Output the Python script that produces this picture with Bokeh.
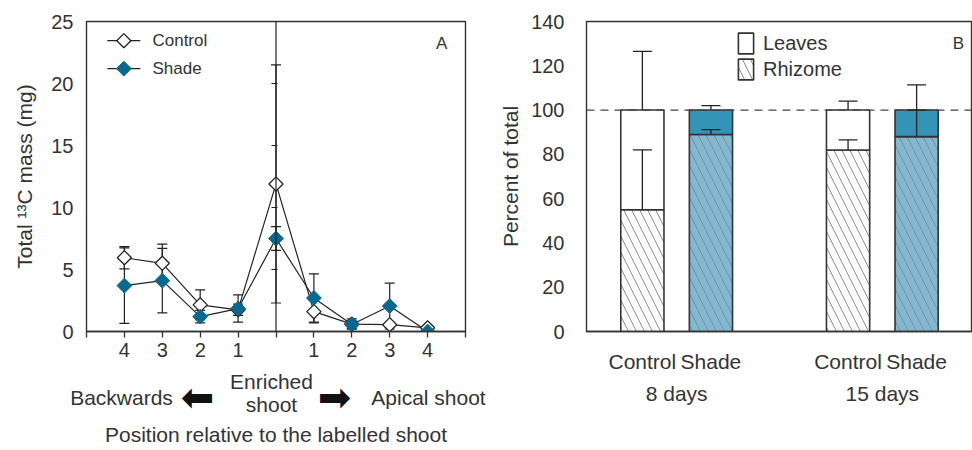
import numpy as np
from bokeh.plotting import figure
from bokeh.models import (ColumnDataSource, Whisker, TeeHead, Span, Label, LinearAxis,
                          Legend, LegendItem, FixedTicker, FactorRange, Range1d)
from bokeh.layouts import row
from bokeh.embed import file_html
from bokeh.resources import INLINE

# ---- Panel A: total 13C mass along the rhizome ----
position_labels = ["4", "3", "2", "1", "", "1", "2", "3", "4"]
control_mass = [5.95, 5.5, 2.15, 1.75, 11.9, 1.6, 0.6, 0.55, 0.3]
control_err = [0.9, 1.55, 1.2, 0.45, 9.6, 0.9, 0.42, 0.1, 0.0]
shade_mass = [3.7, 4.1, 1.2, 1.85, 7.5, 2.7, 0.56, 2.05, 0.0]
shade_err = [3.05, 2.6, 0.5, 1.1, 0.95, 1.95, 0.3, 1.85, 0.0]
enriched_ticks = [5, 10, 15, 20]

# ---- Panel B: partitioning between leaves and rhizome ----
periods = ["8 days", "8 days", "15 days", "15 days"]
treatments = ["Control", "Shade", "Control", "Shade"]
rhizome_pct = [55, 89, 82, 88]
rhizome_err = [27, 2.2, 4.5, 12]
total_pct = [100, 100, 100, 100]
total_err = [26.5, 2.0, 4.0, 11.4]

FONT = "Liberation Sans"
INK = "#333333"
LINE = "#222222"
SHADE_MARK = "#0a6890"
SHADE_LEAF = "#3394b8"
SHADE_RHIZ = "#82b9d2"
WORD = "21px"
DIGIT = "20px"


def style_text_axis(ax):
    ax.major_label_text_font = FONT
    ax.major_label_text_font_size = DIGIT
    ax.major_label_text_color = INK
    ax.axis_label_text_font = FONT
    ax.axis_label_text_font_size = WORD
    ax.axis_label_text_font_style = "normal"
    ax.axis_label_text_color = INK
    ax.minor_tick_line_color = None


def add_label(fig, x, y, text, align="center", size=WORD):
    fig.add_layout(Label(x=x, y=y, text=text, text_align=align, text_baseline="middle",
                         text_font=FONT, text_font_size=size, text_color=INK))


# ================= Panel A =================
x_pos = list(range(len(position_labels)))
x_center = position_labels.index("")
A_WIDTH, A_LEFT, A_RIGHT = 490, 86, 25
a_x0, a_x1 = -1, len(position_labels)

pa = figure(width=A_WIDTH, height=450, x_range=(a_x0, a_x1), y_range=(0, 25),
            output_backend="svg", toolbar_location=None,
            min_border_left=A_LEFT, min_border_right=A_RIGHT, min_border_top=21, min_border_bottom=119)
pa.background_fill_color = None
pa.border_fill_color = "white"
pa.outline_line_color = INK
pa.outline_line_width = 1.4
pa.grid.visible = False

style_text_axis(pa.xaxis[0])
style_text_axis(pa.yaxis[0])
pa.xaxis.ticker = FixedTicker(ticks=list(range(a_x0, a_x1 + 1)))
overrides = {i: lab for i, lab in enumerate(position_labels)}
overrides[a_x0] = ""
overrides[a_x1] = ""
pa.xaxis.major_label_overrides = overrides
pa.xaxis.major_tick_out = 6
pa.xaxis.major_tick_in = 0
pa.xaxis.major_tick_line_color = INK
pa.xaxis.major_tick_line_width = 1.3
pa.xaxis.axis_line_color = INK
pa.xaxis.axis_line_width = 1.4
pa.xaxis.major_label_standoff = 5

pa.yaxis.ticker = FixedTicker(ticks=[0, 5, 10, 15, 20, 25])
pa.yaxis.major_tick_line_color = None
pa.yaxis.axis_line_color = None
pa.yaxis.major_label_standoff = 7
pa.yaxis.axis_label = "Total \u00b9\u00b3C mass (mg)"
pa.yaxis.axis_label_standoff = 12

# vertical line through the enriched shoot, with its own ticks
pa.add_layout(Span(location=x_center, dimension="height", line_color=LINE, line_width=1.2))
pa.segment(x0=[x_center - 0.12] * len(enriched_ticks), y0=enriched_ticks,
           x1=[x_center + 0.04] * len(enriched_ticks), y1=enriched_ticks,
           line_color=LINE, line_width=1.2)

ctrl = ColumnDataSource(dict(x=x_pos, y=control_mass,
                             lo=[m - e for m, e in zip(control_mass, control_err)],
                             hi=[m + e for m, e in zip(control_mass, control_err)]))
shd = ColumnDataSource(dict(x=x_pos, y=shade_mass,
                            lo=[m - e for m, e in zip(shade_mass, shade_err)],
                            hi=[m + e for m, e in zip(shade_mass, shade_err)]))

for src in (ctrl, shd):
    pa.add_layout(Whisker(source=src, base="x", lower="lo", upper="hi",
                          line_color=LINE, line_width=1.2, level="underlay",
                          upper_head=TeeHead(size=10, line_color=LINE, line_width=1.2),
                          lower_head=TeeHead(size=10, line_color=LINE, line_width=1.2)))

ctrl_style = dict(marker="square", angle=np.pi / 4, size=10,
                  fill_color="white", line_color=LINE, line_width=1.3)
shade_style = dict(marker="square", angle=np.pi / 4, size=10.5,
                   fill_color=SHADE_MARK, line_color=SHADE_MARK, line_width=1)

pa.line("x", "y", source=ctrl, line_color=LINE, line_width=1.2)
pa.line("x", "y", source=shd, line_color=LINE, line_width=1.2)
pa.scatter("x", "y", source=ctrl, **ctrl_style)
pa.scatter("x", "y", source=shd, **shade_style)

# series key (line + rotated-square marker), top left of the panel
key_x = (-0.45, 0.42)
key_rows = [("Control", 23.45, ctrl_style), ("Shade", 21.2, shade_style)]
for name, ky, style in key_rows:
    pa.line(x=list(key_x), y=[ky, ky], line_color=LINE, line_width=1.2)
    pa.scatter(x=[sum(key_x) / 2], y=[ky], **style)
    add_label(pa, 0.74, ky, name, align="left", size="17px")

add_label(pa, 8.37, 23.2, "A", size="17px")

# ---- direction guide under panel A, built from stacked label-only axes ----
# the "guide" range is in pixel units across the plotting frame
pa.extra_x_ranges = {"guide": Range1d(A_LEFT, A_WIDTH - A_RIGHT)}


def guide_axis(texts, standoff, size=WORD, font=FONT, color=INK, label=None, label_standoff=0):
    ax = LinearAxis(x_range_name="guide", ticker=FixedTicker(ticks=list(texts)),
                    major_label_overrides=dict(texts),
                    major_label_standoff=standoff,
                    major_label_text_font=font, major_label_text_font_size=size,
                    major_label_text_color=color,
                    major_tick_line_color=None, minor_tick_line_color=None,
                    major_tick_out=0, major_tick_in=0, axis_line_color=None)
    if label:
        ax.axis_label = label
        ax.axis_label_standoff = label_standoff
        ax.axis_label_text_font = FONT
        ax.axis_label_text_font_size = WORD
        ax.axis_label_text_font_style = "normal"
        ax.axis_label_text_color = INK
    pa.add_layout(ax, "below")


guide_axis({271: "Enriched"}, standoff=10)
guide_axis({121: "Backwards", 428: "Apical shoot"}, standoff=-10)
guide_axis({197: "\u2b05", 334: "\u27a1"}, standoff=-38, size="40px", font="DejaVu Sans",
           color="#111111")
guide_axis({271: "shoot"}, standoff=-30, label="Position relative to the labelled shoot",
           label_standoff=4)

# ================= Panel B =================
factors = list(zip(periods, treatments))
is_shade = [t == "Shade" for t in treatments]

bsrc = ColumnDataSource(dict(
    f=factors,
    rhizome=rhizome_pct,
    total=total_pct,
    rhizome_hi=[r + e for r, e in zip(rhizome_pct, rhizome_err)],
    total_hi=[t + e for t, e in zip(total_pct, total_err)],
    rhiz_color=[SHADE_RHIZ if s else "white" for s in is_shade],
    leaf_color=[SHADE_LEAF if s else "white" for s in is_shade],
))

pb = figure(width=482, height=450,
            x_range=FactorRange(*factors, factor_padding=0.0, group_padding=1.0,
                                range_padding=0.315, range_padding_units="absolute"),
            y_range=(0, 140), output_backend="svg", toolbar_location=None,
            min_border_left=96, min_border_right=0, min_border_top=21, min_border_bottom=119)
pb.background_fill_color = None
pb.border_fill_color = "white"
pb.outline_line_color = INK
pb.outline_line_width = 1.4
pb.grid.visible = False

style_text_axis(pb.xaxis[0])
style_text_axis(pb.yaxis[0])
pb.xaxis.major_label_text_font_size = WORD
pb.xaxis.major_tick_line_color = None
pb.xaxis.major_tick_out = 12
pb.xaxis.major_label_standoff = 6
pb.xaxis.axis_line_color = INK
pb.xaxis.axis_line_width = 1.4
pb.xaxis.separator_line_color = None
pb.xaxis.group_text_font = FONT
pb.xaxis.group_text_font_size = WORD
pb.xaxis.group_text_font_style = "normal"
pb.xaxis.group_text_color = INK

pb.yaxis.ticker = FixedTicker(ticks=list(range(0, 141, 20)))
pb.yaxis.major_tick_line_color = None
pb.yaxis.axis_line_color = None
pb.yaxis.major_label_standoff = 16
pb.yaxis.axis_label = "Percent of total"
pb.yaxis.axis_label_standoff = 6

rr = pb.vbar(x="f", bottom=0, top="rhizome", width=0.63, source=bsrc,
             fill_color="rhiz_color", line_color=INK, line_width=1.6,
             hatch_pattern="\\", hatch_color="#8a8a8a", hatch_scale=16, hatch_weight=1)
lr = pb.vbar(x="f", bottom="rhizome", top="total", width=0.63, source=bsrc,
             fill_color="leaf_color", line_color=INK, line_width=1.6)

pb.add_layout(Span(location=100, dimension="width", line_color="#444444",
                   line_width=1.3, line_dash="8 6"))

for lo, hi in (("rhizome", "rhizome_hi"), ("total", "total_hi")):
    pb.add_layout(Whisker(source=bsrc, base="f", lower=lo, upper=hi, level="overlay",
                          line_color=LINE, line_width=1.3, lower_head=None,
                          upper_head=TeeHead(size=19, line_color=LINE, line_width=1.3)))

leg_b = Legend(items=[LegendItem(label="Leaves", renderers=[lr], index=0),
                      LegendItem(label="Rhizome", renderers=[rr], index=0)],
               location=(150, 249), orientation="vertical",
               glyph_width=19, glyph_height=26, label_height=26, spacing=0,
               padding=0, margin=0, label_standoff=8,
               label_text_font=FONT, label_text_font_size="20px", label_text_color=INK,
               background_fill_alpha=0, border_line_color=None)
pb.add_layout(leg_b)
pb.add_layout(Label(x=372, y=288, x_units="screen", y_units="screen", text="B",
                    text_align="center", text_baseline="middle", text_font=FONT,
                    text_font_size="17px", text_color=INK))

layout = row(pa, pb)
open("out.html", "w").write(file_html(layout, INLINE))
